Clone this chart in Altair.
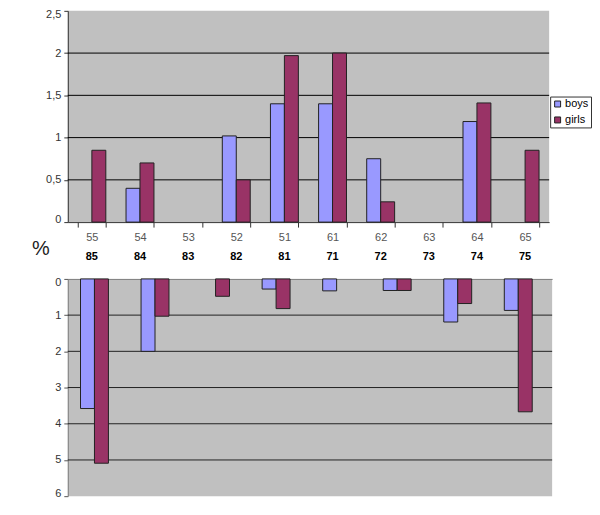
import altair as alt
import pandas as pd

# ---- data ----
top_cats = ["55", "54", "53", "52", "51", "61", "62", "63", "64", "65"]
bottom_cats = ["85", "84", "83", "82", "81", "71", "72", "73", "74", "75"]
series = ["boys", "girls"]

top_boys = [0, 0.40, 0, 1.02, 1.40, 1.40, 0.75, 0, 1.19, 0]
top_girls = [0.85, 0.70, 0, 0.50, 1.97, 2.00, 0.24, 0, 1.41, 0.85]
bot_boys = [3.58, 2.00, 0, 0.28, 0.33, 0.32, 0, 0, 1.19, 0.87]
bot_girls = [5.09, 1.03, 0.48, 0.82, 0, 0.32, 0, 0, 0.68, 3.67]

top_ticks = [0, 0.5, 1, 1.5, 2, 2.5]
bot_ticks = [0, 1, 2, 3, 4, 5, 6]
grid_top = [0.5, 1, 1.5, 2]
grid_bot = [1, 2, 3, 4, 5]

colors = ["#9999FF", "#993366"]
FONT = "Liberation Sans"


def long_df(cats, boys, girls):
    rows = []
    for c, b, g in zip(cats, boys, girls):
        rows.append({"cat": c, "series": "boys", "v": b})
        rows.append({"cat": c, "series": "girls", "v": g})
    return pd.DataFrame(rows)


top_df = long_df(top_cats, top_boys, top_girls)
bot_df = long_df(bottom_cats, bot_boys, bot_girls)

W_TOP, H_TOP = 483, 212
W_BOT, H_BOT = 486, 218

color_scale = alt.Scale(domain=series, range=colors)
xoff = alt.XOffset("series:N", scale=alt.Scale(domain=series, paddingInner=0, paddingOuter=0))

# ---- top panel ----
x_top = alt.X(
    "cat:N", sort=top_cats, title=None,
    scale=alt.Scale(paddingInner=0.42, paddingOuter=0.21),
    axis=alt.Axis(labelColor="#555555", labelFontSize=11, labelFont=FONT, labelAngle=0,
                  tickBand="extent", tickSize=5, tickColor="#333333",
                  domainColor="#333333", labelPadding=4),
)
y_top_axis = alt.Axis(values=top_ticks, labelExpr="replace(toString(datum.value), '.', ',')",
                      grid=False, tickSize=4, tickColor="#333333", domainColor="#333333",
                      labelColor="#333333", labelFontSize=11, labelFont=FONT, labelPadding=3,
                      labelFlush=True, labelFlushOffset=2, title=None)
y_top = alt.Y("v:Q", scale=alt.Scale(domain=[0, 2.5], nice=False), axis=y_top_axis)

grid_top_layer = alt.Chart(pd.DataFrame({"v": grid_top})).mark_rule(
    color="black", strokeWidth=1).encode(y=y_top)

bars_top = alt.Chart(top_df).transform_filter("datum.v > 0").mark_bar(
    stroke="#222222", strokeWidth=1).encode(
    x=x_top, xOffset=xoff, y=y_top,
    color=alt.Color("series:N", scale=color_scale, sort=series,
                    legend=alt.Legend(title=None, orient="none", legendX=484, legendY=86,
                                      strokeColor="#333333", padding=2, fillColor="white",
                                      symbolType="square", symbolSize=36,
                                      symbolStrokeColor="#222222", symbolStrokeWidth=1,
                                      labelFontSize=11, labelFont=FONT, labelColor="black",
                                      rowPadding=4, labelOffset=2)),
)

bold_labels = alt.Chart(pd.DataFrame({"cat": top_cats, "lab": bottom_cats})).mark_text(
    fontWeight="bold", fontSize=11, font=FONT, color="black", baseline="middle").encode(
    x=alt.X("cat:N", sort=top_cats), y=alt.value(247), text="lab:N")

pct = alt.Chart(pd.DataFrame({"t": ["%"]})).mark_text(
    fontSize=20, font=FONT, color="#222222", align="left", baseline="middle").encode(
    x=alt.value(-36), y=alt.value(239), text="t:N")

top = alt.layer(grid_top_layer, bars_top, bold_labels, pct).properties(width=W_TOP, height=H_TOP)

# ---- bottom panel ----
x_bot = alt.X(
    "cat:N", sort=bottom_cats, title=None,
    scale=alt.Scale(paddingInner=0.42, paddingOuter=0.21),
    axis=alt.Axis(orient="top", labels=False, ticks=False, domainColor="#808080"),
)
y_bot_axis = alt.Axis(values=bot_ticks, grid=False, tickSize=4, tickColor="#555555",
                      domainColor="#808080", labelColor="#333333", labelFontSize=11,
                      labelFont=FONT, labelPadding=3, labelFlush=True, labelFlushOffset=2,
                      title=None)
y_bot = alt.Y("v:Q", scale=alt.Scale(domain=[0, 6], nice=False, reverse=True), axis=y_bot_axis)

grid_bot_layer = alt.Chart(pd.DataFrame({"v": grid_bot})).mark_rule(
    color="#222222", strokeWidth=1).encode(y=y_bot)

bars_bot = alt.Chart(bot_df).transform_filter("datum.v > 0").mark_bar(
    stroke="#222222", strokeWidth=1).encode(
    x=x_bot, xOffset=xoff, y=y_bot,
    color=alt.Color("series:N", scale=color_scale, legend=None),
)

bottom = alt.layer(grid_bot_layer, bars_bot).properties(width=W_BOT, height=H_BOT)

chart = alt.vconcat(top, bottom, spacing=15).resolve_scale(color="independent").properties(
    padding={"left": 24, "top": 0, "right": 0, "bottom": 0},
    background="white",
).configure_view(stroke=None, fill="#C0C0C0")

chart.save("out.html", embed_options={"renderer": "svg", "actions": False})
